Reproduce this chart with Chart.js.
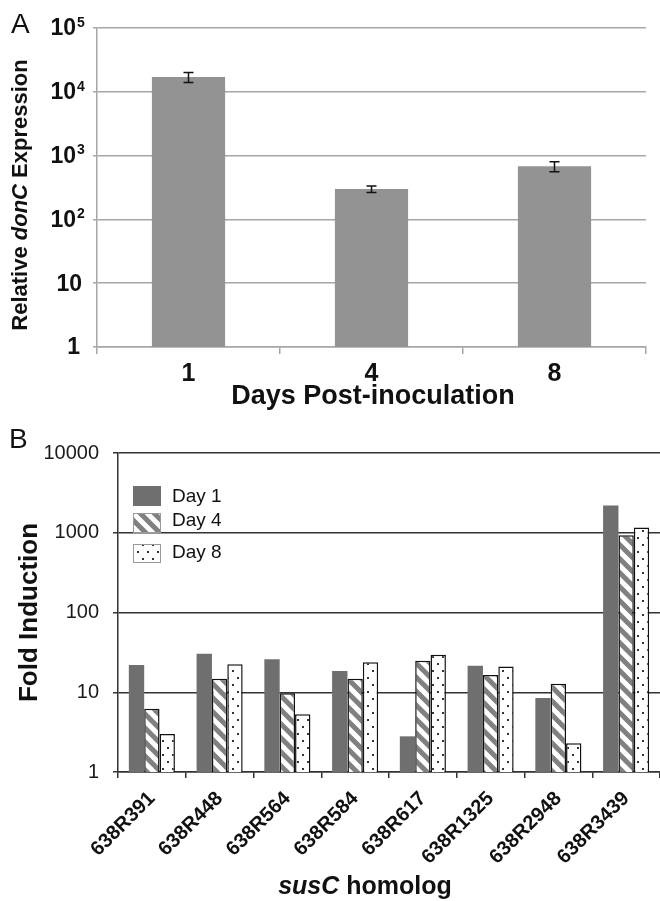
<!DOCTYPE html>
<html>
<head>
<meta charset="utf-8">
<script src="https://cdn.jsdelivr.net/npm/chart.js@4.4.1/dist/chart.umd.min.js"></script>
<style>
  html, body { margin: 0; padding: 0; background: #fff; overflow: hidden; }
  .panel { position: absolute; left: 0; width: 660px; }
  #pa { top: 0; height: 410px; }
  #pb { top: 415px; height: 486px; }
</style>
</head>
<body>
<div class="panel" id="pa"><canvas id="chartA"></canvas></div>
<div class="panel" id="pb"><canvas id="chartB"></canvas></div>
<script>
// ---------- Data ----------
// panel A: relative donC expression
const daysLabels = ['1', '4', '8'];
const donCValues = [17000, 300, 680];
const donCErrors = [3000, 35, 120];
const donCTicks = [1, 10, 100, 1000, 10000, 100000];

// panel B: susC homolog fold induction
const homologs = ['638R391', '638R448', '638R564', '638R584', '638R617', '638R1325', '638R2948', '638R3439'];
const day1Values = [22, 30.5, 26, 18.5, 2.8, 21.5, 8.5, 2200];
const day4Values = [6.2, 14.8, 9.7, 14.8, 24.8, 16.5, 12.8, 930];
const day8Values = [3.0, 22.5, 5.3, 23.8, 29.5, 21, 2.3, 1160];
const foldTicks = [1, 10, 100, 1000, 10000];

const FONT = '"Liberation Sans", Arial, sans-serif';

// ---------- Patterns ----------
function stripePattern() {
  const c = document.createElement('canvas');
  c.width = 14; c.height = 14;
  const g = c.getContext('2d');
  g.fillStyle = '#fff';
  g.fillRect(0, 0, 14, 14);
  g.strokeStyle = '#808080';
  g.lineWidth = 5;
  [-14, 0, 14].forEach(o => {
    g.beginPath();
    g.moveTo(o - 2, -2);
    g.lineTo(o + 16, 16);
    g.stroke();
  });
  return g.createPattern(c, 'repeat');
}

function dotPattern() {
  const c = document.createElement('canvas');
  c.width = 10; c.height = 14;
  const g = c.getContext('2d');
  g.fillStyle = '#fff';
  g.fillRect(0, 0, 10, 14);
  g.fillStyle = '#333';
  g.fillRect(2, 3, 2, 2);
  g.fillRect(7, 10, 2, 2);
  return g.createPattern(c, 'repeat');
}

const day4Fill = stripePattern();
const day8Fill = dotPattern();

// mixed-style text, centred on (cx, cy)
function drawRuns(ctx, runs, cx, cy, rotate) {
  ctx.save();
  ctx.translate(cx, cy);
  if (rotate) ctx.rotate(-Math.PI / 2);
  ctx.textBaseline = 'middle';
  ctx.textAlign = 'left';
  let total = 0;
  runs.forEach(r => { ctx.font = r.font; r.w = ctx.measureText(r.text).width; total += r.w; });
  let x = -total / 2;
  runs.forEach(r => { ctx.font = r.font; ctx.fillText(r.text, x, 0); x += r.w; });
  ctx.restore();
}

function powersOnly(list) {
  return scale => { scale.ticks = list.map(v => ({ value: v })); };
}

// ---------- Panel A ----------
const panelAExtras = {
  id: 'panelAExtras',
  afterDatasetsDraw(chart) {
    const ctx = chart.ctx;
    const y = chart.scales.y;
    const meta = chart.getDatasetMeta(0);
    ctx.save();
    ctx.strokeStyle = '#111';
    ctx.lineWidth = 1.5;
    meta.data.forEach((bar, i) => {
      const hi = y.getPixelForValue(donCValues[i] + donCErrors[i]);
      const lo = y.getPixelForValue(donCValues[i] - donCErrors[i]);
      ctx.beginPath();
      ctx.moveTo(bar.x, hi); ctx.lineTo(bar.x, lo);
      ctx.moveTo(bar.x - 5, hi); ctx.lineTo(bar.x + 5, hi);
      ctx.moveTo(bar.x - 5, lo); ctx.lineTo(bar.x + 5, lo);
      ctx.stroke();
    });
    ctx.restore();
  },
  afterDraw(chart) {
    const ctx = chart.ctx;
    const y = chart.scales.y;
    ctx.save();
    ctx.fillStyle = '#111';
    // y tick labels with superscript exponents
    donCTicks.forEach(v => {
      const py = y.getPixelForValue(v);
      const exp = Math.round(Math.log10(v));
      ctx.textBaseline = 'middle';
      ctx.font = 'bold 23px ' + FONT;
      ctx.textAlign = 'right';
      if (exp === 0) {
        ctx.fillText('1', 80, py + 1);
      } else if (exp === 1) {
        ctx.fillText('10', 82, py + 1);
      } else {
        ctx.fillText('10', 76, py + 1);
        ctx.font = 'bold 14px ' + FONT;
        ctx.textAlign = 'left';
        ctx.fillText(String(exp), 77, py - 5);
      }
    });
    // panel letter
    ctx.font = '28px ' + FONT;
    ctx.textAlign = 'left';
    ctx.textBaseline = 'alphabetic';
    ctx.fillText('A', 11, 33);
    ctx.restore();
    // axis titles
    ctx.fillStyle = '#111';
    drawRuns(ctx, [
      { text: 'Relative ', font: 'bold 22px ' + FONT },
      { text: 'donC', font: 'italic bold 22px ' + FONT },
      { text: ' Expression', font: 'bold 22px ' + FONT }
    ], 21, 195, true);
    drawRuns(ctx, [
      { text: 'Days Post-inoculation', font: 'bold 27px ' + FONT }
    ], 373, 397, false);
  }
};

new Chart(document.getElementById('chartA'), {
  type: 'bar',
  data: {
    labels: daysLabels,
    datasets: [{
      label: 'Relative donC Expression',
      data: donCValues,
      backgroundColor: '#939393',
      borderWidth: 0,
      categoryPercentage: 0.8,
      barPercentage: 0.5
    }]
  },
  options: {
    responsive: true,
    maintainAspectRatio: false,
    animation: false,
    layout: { padding: { left: 0, right: 14, top: 28, bottom: 0 } },
    plugins: { legend: { display: false }, tooltip: { enabled: false } },
    scales: {
      x: {
        grid: { drawOnChartArea: false, color: '#a6a6a6', lineWidth: 1.5, tickLength: 7 },
        border: { color: '#a6a6a6', width: 1.5 },
        ticks: { color: '#111', font: { family: FONT, size: 25, weight: 'bold' }, padding: 5 },
        afterFit: s => { s.height = 63; }
      },
      y: {
        type: 'logarithmic',
        min: 1,
        max: 100000,
        afterBuildTicks: powersOnly(donCTicks),
        grid: { color: '#a6a6a6', lineWidth: 1.5, tickLength: 4 },
        border: { color: '#a6a6a6', width: 1.5 },
        ticks: { display: false },
        afterFit: s => { s.width = 97; }
      }
    }
  },
  plugins: [panelAExtras]
});

// ---------- Panel B ----------
const legendItems = [
  { text: 'Day 1', fill: '#6f6f6f', border: false, top: 71, h: 20, cy: 82 },
  { text: 'Day 4', fill: day4Fill, border: true, top: 98, h: 20, cy: 106 },
  { text: 'Day 8', fill: day8Fill, border: true, top: 129, h: 19, cy: 138 }
];

const panelBExtras = {
  id: 'panelBExtras',
  afterDraw(chart) {
    const ctx = chart.ctx;
    const area = chart.chartArea;
    ctx.save();
    // legend inside plot
    legendItems.forEach(it => {
      ctx.fillStyle = it.fill;
      ctx.fillRect(133, it.top, 28, it.h);
      if (it.border) {
        ctx.strokeStyle = '#999';
        ctx.lineWidth = 1;
        ctx.strokeRect(133.5, it.top + 0.5, 27, it.h - 1);
      }
      ctx.fillStyle = '#111';
      ctx.font = '19px ' + FONT;
      ctx.textAlign = 'left';
      ctx.textBaseline = 'middle';
      ctx.fillText(it.text, 172, it.cy);
    });
    // panel letter
    ctx.font = '28px ' + FONT;
    ctx.textBaseline = 'alphabetic';
    ctx.fillText('B', 9, 33);
    ctx.restore();
    ctx.fillStyle = '#111';
    drawRuns(ctx, [
      { text: 'Fold Induction', font: 'bold 26px ' + FONT }
    ], 30, (area.top + area.bottom) / 2, true);
    drawRuns(ctx, [
      { text: 'susC', font: 'italic bold 25px ' + FONT },
      { text: ' homolog', font: 'bold 25px ' + FONT }
    ], 365, 472, false);
  }
};

new Chart(document.getElementById('chartB'), {
  type: 'bar',
  data: {
    labels: homologs,
    datasets: [
      { label: 'Day 1', data: day1Values, backgroundColor: '#6f6f6f', borderWidth: 0 },
      { label: 'Day 4', data: day4Values, backgroundColor: day4Fill, borderColor: '#111', borderWidth: 1.5 },
      { label: 'Day 8', data: day8Values, backgroundColor: day8Fill, borderColor: '#111', borderWidth: 1.5 }
    ]
  },
  options: {
    responsive: true,
    maintainAspectRatio: false,
    animation: false,
    datasets: { bar: { categoryPercentage: 0.68, barPercentage: 1.0 } },
    layout: { padding: { left: 0, right: 0, top: 38, bottom: 0 } },
    plugins: { legend: { display: false }, tooltip: { enabled: false } },
    scales: {
      x: {
        grid: { drawOnChartArea: false, color: '#333', lineWidth: 1.5, tickLength: 6 },
        border: { color: '#333', width: 1.5 },
        ticks: {
          color: '#111',
          font: { family: FONT, size: 20, weight: 'bold' },
          maxRotation: 45,
          minRotation: 45,
          padding: 9
        },
        afterFit: s => { s.height = 129; }
      },
      y: {
        type: 'logarithmic',
        min: 1,
        max: 10000,
        afterBuildTicks: powersOnly(foldTicks),
        grid: { color: '#333', lineWidth: 1.5, tickLength: 5 },
        border: { color: '#333', width: 1.5 },
        ticks: {
          color: '#1a1a1a',
          font: { family: FONT, size: 20 },
          padding: 14,
          callback: v => String(v)
        },
        afterFit: s => { s.width = 118; }
      }
    }
  },
  plugins: [panelBExtras]
});
</script>
</body>
</html>
